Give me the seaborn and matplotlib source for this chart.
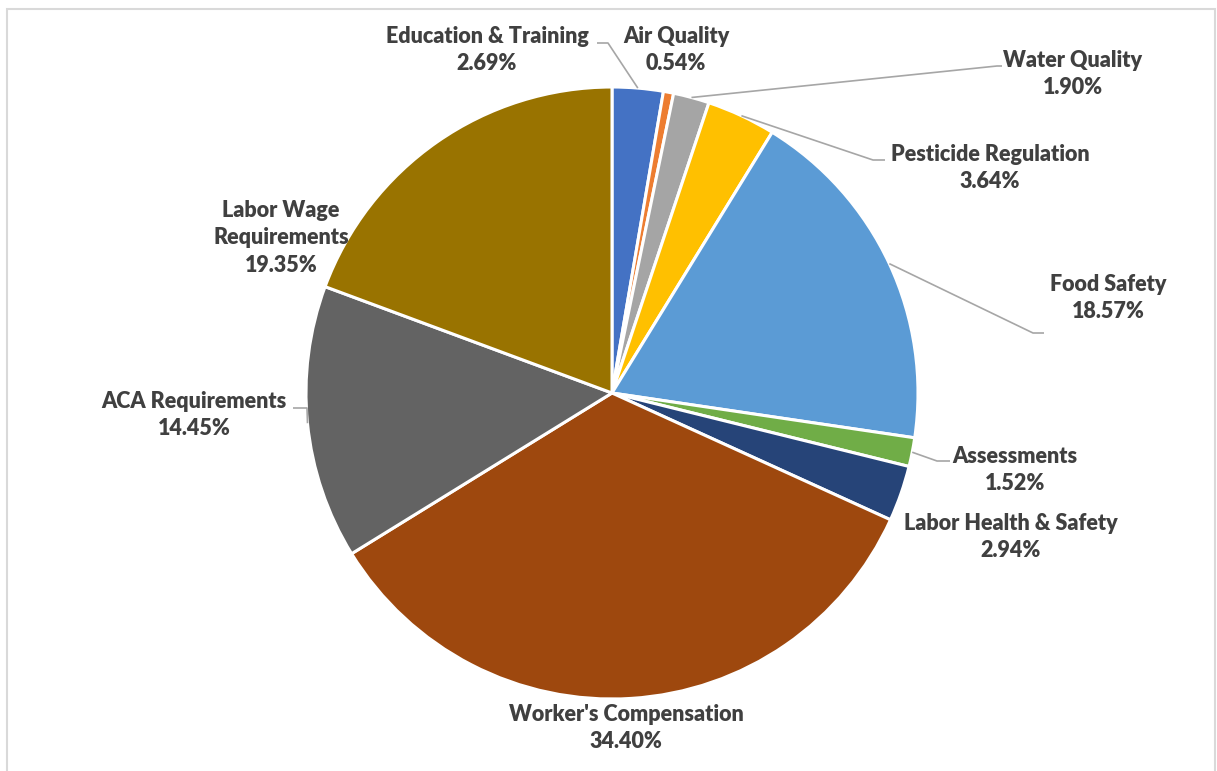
import numpy as np
import matplotlib
matplotlib.use("Agg")
import matplotlib.pyplot as plt
import matplotlib.patches as mpatches
import seaborn as sns

# data
categories = ["Education & Training", "Air Quality", "Water Quality",
              "Pesticide Regulation", "Food Safety", "Assessments",
              "Labor Health & Safety", "Worker's Compensation",
              "ACA Requirements", "Labor Wage\nRequirements"]
shares = [2.69, 0.54, 1.90, 3.64, 18.57, 1.52, 2.94, 34.40, 14.45, 19.35]
colors = ["#4472C4", "#ED7D31", "#A5A5A5", "#FFC000", "#5B9BD5",
          "#70AD47", "#264478", "#9E480E", "#636363", "#997300"]

# label layout in pixels (x, y from top) and optional leader elbow/end
label_pos = [(487, 50), (676, 50), (1073, 74), (990, 168), (1108, 298),
             (1015, 470), (1011, 537), (626, 728), (194, 415), (281, 238)]
leaders = {0: [(608, 43), (597, 43)],
           2: [(997, 66), (1002, 66)],
           3: [(873, 160), (885, 160)],
           4: [(1033, 333), (1044, 333)],
           5: [(937, 461), (950, 461)],
           8: [(307, 408), (293, 408)]}

sns.set_theme(style="white")
plt.rcParams['font.family'] = ['Lato', 'DejaVu Sans']

W, H = 1217, 771
fig = plt.figure(figsize=(W / 100, H / 100), dpi=100)
ax = fig.add_axes([0, 0, 1, 1])

cx, cy, r = 612, 393, 306
def py(y):
    return H - y

wedges, _ = ax.pie(shares, colors=colors, startangle=90, counterclock=False,
                   center=(cx, py(cy)), radius=r,
                   wedgeprops=dict(edgecolor="white", linewidth=2.2))
ax.set_xlim(0, W)
ax.set_ylim(0, H)
ax.set_aspect("equal")
ax.axis("off")

cum = np.cumsum([0] + shares[:-1])
for i, (name, val) in enumerate(zip(categories, shares)):
    lx, ly = label_pos[i]
    ax.text(lx, py(ly), f"{name}\n{val:.2f}%", ha="center", va="center",
            fontsize=15.5, fontweight="heavy", color="#404040", linespacing=1.4)
    if i in leaders:
        mid = np.deg2rad((cum[i] + val / 2) / 100 * 360)
        ax0 = cx + r * np.sin(mid)
        ay0 = cy - r * np.cos(mid)
        pts = [(ax0, ay0)] + leaders[i]
        ax.plot([p[0] for p in pts], [py(p[1]) for p in pts],
                color="#A6A6A6", lw=1.2, solid_capstyle="butt")

fig.patches.append(mpatches.Rectangle((7 / W, -0.1), (1215 - 7) / W, 1.1 - 9 / H,
                                      transform=fig.transFigure, fill=False,
                                      edgecolor="#D9D9D9", lw=1.5))
fig.savefig("out.png", dpi=100)
